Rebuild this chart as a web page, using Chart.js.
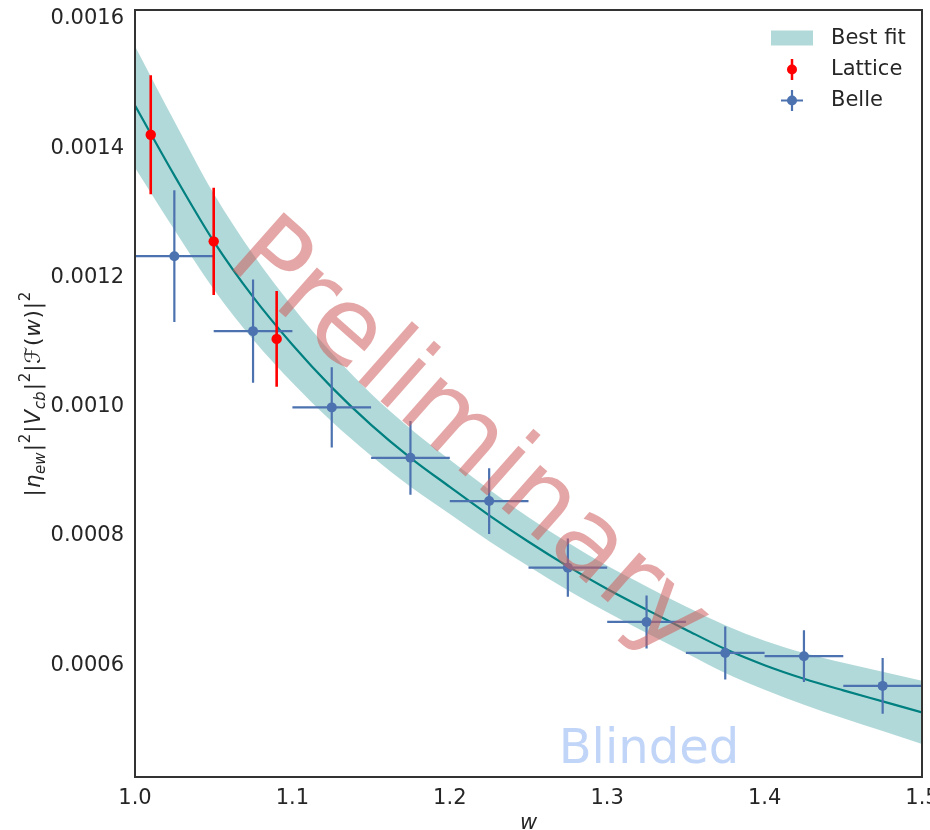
<!DOCTYPE html>
<html><head><meta charset="utf-8">
<script src="https://cdn.jsdelivr.net/npm/chart.js@4.4.1/dist/chart.umd.min.js"></script>
<style>html,body{margin:0;padding:0;background:#fff;overflow:hidden}#wrap{width:930px;height:830px}</style>
</head><body><div id="wrap"><canvas id="c" width="930" height="830"></canvas></div>
<script>
// ---- data ----
const fitW      = [1.000,1.025,1.050,1.075,1.100,1.125,1.150,1.175,1.200,1.225,1.250,1.275,1.300,1.325,1.350,1.375,1.400,1.425,1.450,1.475,1.500];
const fitCenter = [0.001466,0.001358,0.001256,0.001170,0.001096,0.001030,0.000972,0.000921,0.000876,0.000832,0.000791,0.000753,0.000718,0.000686,0.000655,0.000625,0.000600,0.000579,0.000561,0.000544,0.000527];
const fitUpper  = [0.001558,0.001442,0.001330,0.001236,0.001155,0.001083,0.001020,0.000966,0.000918,0.000872,0.000829,0.000790,0.000754,0.000722,0.000691,0.000662,0.000638,0.000619,0.000604,0.000590,0.000576];
const fitLower  = [0.001370,0.001274,0.001182,0.001104,0.001037,0.000977,0.000924,0.000876,0.000834,0.000792,0.000753,0.000716,0.000682,0.000650,0.000619,0.000588,0.000562,0.000539,0.000518,0.000498,0.000478];

const latticeW   = [1.01, 1.05, 1.09];
const latticeVal = [0.001421, 0.001256, 0.001105];
const latticeErr = [0.000092, 0.000083, 0.000074];

const belleW    = [1.025,1.075,1.125,1.175,1.225,1.275,1.325,1.375,1.425,1.475];
const belleVal  = [0.001233,0.001117,0.000999,0.000921,0.000854,0.000751,0.000667,0.000619,0.000614,0.000568];
const belleErr  = [0.000102,0.000080,0.000062,0.000057,0.000051,0.000045,0.000041,0.000041,0.000040,0.000043];
const belleBinHalf = [0.025,0.025,0.025,0.025,0.025,0.025,0.025,0.025,0.025,0.025];

const xTicks = [1.0,1.1,1.2,1.3,1.4,1.5];
const yTicks = [0.0006,0.0008,0.0010,0.0012,0.0014,0.0016];

const legendLabels = ['Best fit','Lattice','Belle'];

// ---- styles ----
const TEAL = 'rgb(0,128,128)';
const BAND = 'rgba(0,128,128,0.3)';
const RED = 'rgb(255,0,0)';
const BLUE = 'rgb(76,114,176)';
const TXT = '#262626';
const FONT = '"DejaVu Sans", "Liberation Sans", sans-serif';

const pts = (xs, ys) => xs.map((x,i)=>({x:x, y:ys[i]}));
function vBars(ws, vs, es){ const d=[]; ws.forEach((w,i)=>{ d.push({x:w,y:vs[i]-es[i]},{x:w,y:vs[i]+es[i]},{x:w,y:null}); }); return d; }
function hBars(ws, vs, hs){ const d=[]; ws.forEach((w,i)=>{ d.push({x:w-hs[i],y:vs[i]},{x:w+hs[i],y:vs[i]},{x:w,y:null}); }); return d; }

const overlay = {
  id:'overlay',
  afterDatasetsDraw(chart){
    const ctx = chart.ctx, a = chart.chartArea;
    const W = a.right-a.left, H = a.bottom-a.top;
    // watermark "Preliminary"
    ctx.save();
    ctx.translate(a.left + 0.422*W, a.top + 0.562*H);
    ctx.rotate(41.5*Math.PI/180);
    ctx.font = '106px ' + FONT;
    ctx.fillStyle = 'rgba(205,92,92,0.55)';
    ctx.textAlign='center'; ctx.textBaseline='middle';
    ctx.fillText('Preliminary',0,0);
    ctx.restore();
    // "Blinded"
    ctx.save();
    ctx.font = '48px ' + FONT;
    ctx.fillStyle = 'rgba(100,149,237,0.4)';
    ctx.textAlign='center'; ctx.textBaseline='alphabetic';
    ctx.fillText('Blinded', a.left + 0.653*W, a.bottom - 14);
    ctx.restore();
    // frame
    ctx.save();
    ctx.strokeStyle='#333'; ctx.lineWidth=2;
    ctx.strokeRect(a.left, a.top, W, H);
    ctx.restore();
    // legend
    ctx.save();
    const lx = a.right - 151, rows=[a.top+28.5, a.top+59.5, a.top+90.5];
    ctx.fillStyle = BAND; ctx.fillRect(lx, rows[0]-8, 42, 15);
    const mx = lx + 21;
    ctx.strokeStyle = RED; ctx.lineWidth = 2.5;
    ctx.beginPath(); ctx.moveTo(mx, rows[1]-10.5); ctx.lineTo(mx, rows[1]+10.5); ctx.stroke();
    ctx.fillStyle = RED; ctx.beginPath(); ctx.arc(mx, rows[1], 5, 0, 2*Math.PI); ctx.fill();
    ctx.strokeStyle = BLUE; ctx.lineWidth = 2.2;
    ctx.beginPath(); ctx.moveTo(mx-11, rows[2]); ctx.lineTo(mx+11, rows[2]); ctx.moveTo(mx, rows[2]-10.5); ctx.lineTo(mx, rows[2]+10.5); ctx.stroke();
    ctx.fillStyle = BLUE; ctx.beginPath(); ctx.arc(mx, rows[2], 5, 0, 2*Math.PI); ctx.fill();
    ctx.fillStyle = TXT; ctx.font = '21px ' + FONT; ctx.textAlign='left'; ctx.textBaseline='middle';
    legendLabels.forEach((t,i)=>ctx.fillText(t, lx+60, rows[i]));
    ctx.restore();
    // x title
    ctx.save();
    ctx.fillStyle = TXT; ctx.font = 'italic 21px ' + FONT; ctx.textAlign='center'; ctx.textBaseline='alphabetic';
    ctx.fillText('w', (a.left+a.right)/2, a.bottom + 52);
    ctx.restore();
    // y title with sub/superscripts
    const base = 21.5, small = base*0.7;
    const parts = [
      {t:'|'},{t:'η',it:1},{t:'ew',it:1,sub:1},{t:'|'},{t:'2',sup:1},
      {t:'|'},{t:'V',it:1},{t:'cb',it:1,sub:1},{t:'|'},{t:'2',sup:1},
      {t:'|'},{t:'ℱ'},{t:'('},{t:'w',it:1},{t:')'},{t:'|'},{t:'2',sup:1}
    ];
    const fontOf = p => (p.it?'italic ':'') + ((p.sub||p.sup)?small:base) + 'px ' + FONT;
    ctx.save();
    let total = 0;
    parts.forEach(p=>{ ctx.font = fontOf(p); p.w = ctx.measureText(p.t).width + ((p.sub||p.sup)?1:0.8); total += p.w; });
    ctx.translate(33, (a.top+a.bottom)/2);
    ctx.rotate(-Math.PI/2);
    ctx.fillStyle = TXT; ctx.textAlign='left'; ctx.textBaseline='alphabetic';
    let x = -total/2;
    parts.forEach(p=>{
      ctx.font = fontOf(p);
      const dy = p.sub ? base*0.22 : (p.sup ? -base*0.45 : 0);
      ctx.fillText(p.t, x, 7 + dy);
      x += p.w;
    });
    ctx.restore();
  }
};

const noPad = s => { s.paddingTop = 0; s.paddingBottom = 0; s.paddingLeft = 0; s.paddingRight = 0; };

new Chart(document.getElementById('c'), {
  type:'line',
  data:{ datasets:[
    {label:'band lower', data:pts(fitW, fitLower), borderWidth:0, pointRadius:0, fill:false, cubicInterpolationMode:'monotone', order:12},
    {label:'Best fit', data:pts(fitW, fitUpper), borderWidth:0, pointRadius:0, fill:'-1', backgroundColor:BAND, cubicInterpolationMode:'monotone', order:11},
    {label:'fit', data:pts(fitW, fitCenter), borderColor:TEAL, borderWidth:2.2, pointRadius:0, fill:false, cubicInterpolationMode:'monotone', order:10},
    {label:'Belle yerr', data:vBars(belleW, belleVal, belleErr), borderColor:BLUE, borderWidth:2.2, pointRadius:0, fill:false, spanGaps:false, order:6},
    {label:'Belle xerr', data:hBars(belleW, belleVal, belleBinHalf), borderColor:BLUE, borderWidth:2.2, pointRadius:0, fill:false, spanGaps:false, order:5},
    {label:'Belle', data:pts(belleW, belleVal), showLine:false, pointRadius:5, pointBorderWidth:0, pointBackgroundColor:BLUE, order:4},
    {label:'Lattice yerr', data:vBars(latticeW, latticeVal, latticeErr), borderColor:RED, borderWidth:2.6, pointRadius:0, fill:false, spanGaps:false, order:3},
    {label:'Lattice', data:pts(latticeW, latticeVal), showLine:false, pointRadius:5.2, pointBorderWidth:0, pointBackgroundColor:RED, order:2}
  ]},
  options:{
    responsive:false, animation:false, events:[],
    layout:{ padding:{top:10,right:8,bottom:0,left:0}, autoPadding:false },
    plugins:{ legend:{display:false}, tooltip:{enabled:false} },
    scales:{
      x:{ type:'linear', min:1.0, max:1.5,
          grid:{display:false, drawTicks:false}, border:{display:false},
          afterBuildTicks: s => { s.ticks = xTicks.map(v=>({value:v})); },
          afterFit: s => { s.height = 53; noPad(s); },
          ticks:{ padding:9, color:TXT, font:{family:'DejaVu Sans', size:21}, callback: v => Number(v).toFixed(1), maxRotation:0, autoSkip:false } },
      y:{ type:'linear', min:0.000427, max:0.001614,
          grid:{display:false, drawTicks:false}, border:{display:false},
          afterBuildTicks: s => { s.ticks = yTicks.map(v=>({value:v})); },
          afterFit: s => { s.width = 135; noPad(s); },
          ticks:{ padding:11, color:TXT, font:{family:'DejaVu Sans', size:21}, callback: v => Number(v).toFixed(4), autoSkip:false } }
    }
  },
  plugins:[overlay]
});
</script></body></html>
